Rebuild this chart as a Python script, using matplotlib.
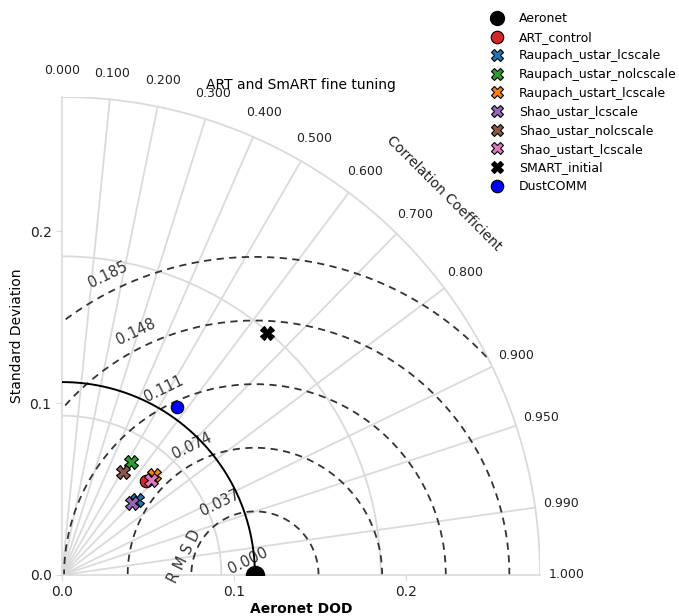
import numpy as np
import matplotlib
matplotlib.use("Agg")
import matplotlib.pyplot as plt
from matplotlib.patches import Wedge
from matplotlib.lines import Line2D

# data
ref_name = "Aeronet"
ref_std = 0.1122

names = ["ART_control", "Raupach_ustar_lcscale", "Raupach_ustar_nolcscale",
         "Raupach_ustart_lcscale", "Shao_ustar_lcscale", "Shao_ustar_nolcscale",
         "Shao_ustart_lcscale", "SMART_initial", "DustCOMM"]
std_vals = [0.0732, 0.0615, 0.0770, 0.0791, 0.0584, 0.0699, 0.0756, 0.1844, 0.1183]
corr_vals = [0.664, 0.705, 0.518, 0.679, 0.700, 0.511, 0.683, 0.645, 0.566]
markers = ["o", "X", "X", "X", "X", "X", "X", "X", "o"]
colors = ["tab:red", "tab:blue", "tab:green", "tab:orange", "tab:purple",
          "tab:brown", "tab:pink", "black", "blue"]

corr_ticks = [0.0, 0.1, 0.2, 0.3, 0.4, 0.5, 0.6, 0.7, 0.8, 0.9, 0.95, 0.99, 1.0]
rmsd_levels = [0.037, 0.074, 0.111, 0.148, 0.185]
rmsd_labels = [0.000, 0.037, 0.074, 0.111, 0.148, 0.185]
std_ticks = [0.0, 0.1, 0.2]

rmax = 0.278
grid_col = "#dadada"

fig = plt.figure(figsize=(6.79, 6.16), dpi=100)
ax = fig.add_axes([62 / 679, 41 / 616, 478 / 679, 478 / 616])
ax.set_xlim(0, rmax)
ax.set_ylim(0, rmax)

for s in ["top", "right"]:
    ax.spines[s].set_visible(False)
for s in ["left", "bottom"]:
    ax.spines[s].set_color(grid_col)
    ax.spines[s].set_linewidth(1.2)
ax.set_xticks(std_ticks)
ax.set_yticks(std_ticks)
ax.set_xticklabels(["0.0", "0.1", "0.2"])
ax.set_yticklabels(["0.0", "0.1", "0.2"])
ax.tick_params(colors=grid_col, labelcolor="#222222", labelsize=10, length=4)

clip = Wedge((0, 0), rmax, 0, 90, transform=ax.transData)

# std arcs
th = np.linspace(0, np.pi / 2, 300)
for r in [rmax / 3, 2 * rmax / 3, rmax]:
    ax.plot(r * np.cos(th), r * np.sin(th), color=grid_col, lw=1.3, zorder=1)

# correlation rays + labels
for c in corr_ticks:
    a = np.arccos(c)
    if 0 < c < 1:
        ax.plot([0, rmax * np.cos(a)], [0, rmax * np.sin(a)], color=grid_col, lw=1.3, zorder=1)
    rl = rmax * 1.055
    ax.text(rl * np.cos(a), rl * np.sin(a), "%.3f" % c, ha="center", va="center",
            fontsize=9, color="#222222", clip_on=False)

ax.text(rmax * 1.13 * np.cos(np.pi / 4), rmax * 1.13 * np.sin(np.pi / 4),
        "Correlation Coefficient", rotation=-45, ha="center", va="center",
        fontsize=10, color="#222222", rotation_mode="anchor")

# RMSD contours
tt = np.linspace(0, np.pi, 400)
for r in rmsd_levels:
    ln, = ax.plot(ref_std + r * np.cos(tt), r * np.sin(tt), ls="--", color="#333333",
                  lw=1.3, dashes=(4, 3), zorder=2)
    ln.set_clip_path(clip)

lab_ang = np.deg2rad(116)
for r in rmsd_labels:
    rr = r + 0.0095
    ax.text(ref_std + rr * np.cos(lab_ang), rr * np.sin(lab_ang), "%.3f" % r,
            rotation=26, ha="center", va="center", fontsize=10.5, color="#333333")

ax.text(0.0715, 0.011, "R M S D", rotation=64, ha="center", va="center",
        fontsize=10.5, color="#333333")

# reference std arc
ax.plot(ref_std * np.cos(th), ref_std * np.sin(th), color="black", lw=1.4, zorder=3)

# points
ax.plot([ref_std], [0], "o", color="black", ms=13, zorder=5, clip_on=True)
for n, s, c, m, col in zip(names, std_vals, corr_vals, markers, colors):
    a = np.arccos(c)
    ms = 9 if m == "o" else 10
    ax.plot(s * np.cos(a), s * np.sin(a), m, color=col, mec="black", mew=0.8,
            ms=ms, zorder=6)

ax.text(0.5, 1.025, "ART and SmART fine tuning", transform=ax.transAxes,
        ha="center", va="center", fontsize=10)
ax.set_xlabel("Aeronet DOD", fontsize=10, fontweight="bold", labelpad=2)
ax.set_ylabel("Standard Deviation", fontsize=10)

handles = [Line2D([], [], ls="none", marker="o", color="black", ms=10)]
for m, col in zip(markers, colors):
    handles.append(Line2D([], [], ls="none", marker=m, color=col, mec="black",
                          mew=0.8, ms=9 if m == "o" else 8))
fig.legend(handles, [ref_name] + names, loc="upper left",
           bbox_to_anchor=(473 / 679, 1 - 1 / 616), frameon=False, fontsize=9,
           handlelength=2, labelspacing=0.45)

fig.savefig("out.png", dpi=100)
